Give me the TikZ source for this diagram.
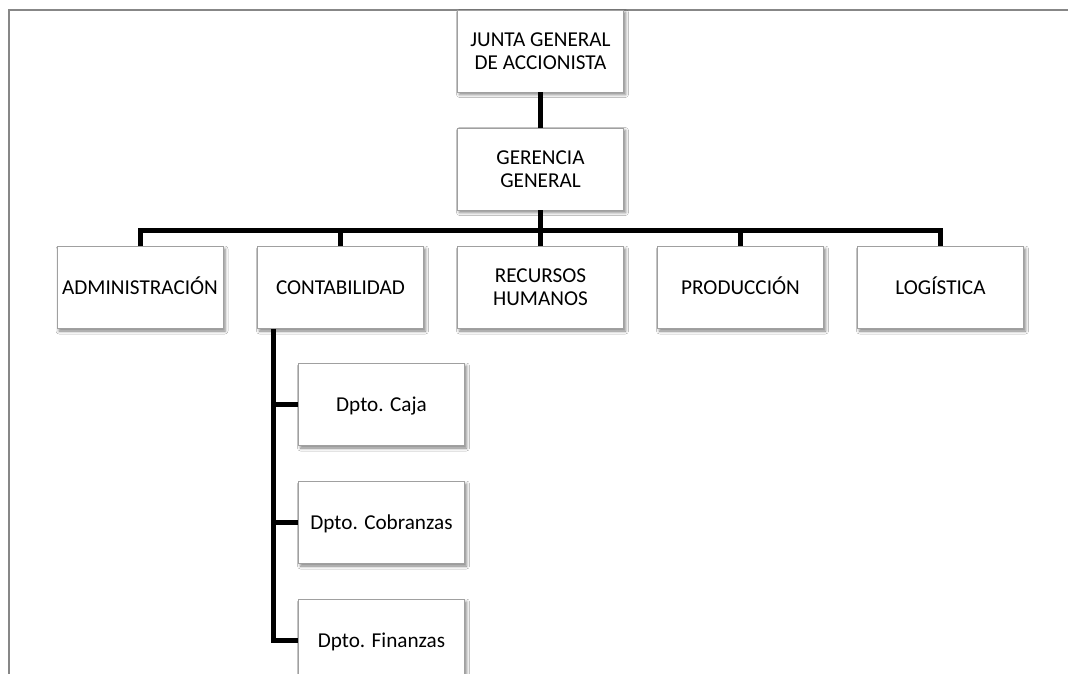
\documentclass[tikz,border=0pt]{standalone}
\usepackage{fontspec}
\setmainfont{Carlito}
\usetikzlibrary{shadows.blur}
\definecolor{framegray}{RGB}{135,135,135}
\definecolor{boxgray}{RGB}{160,160,160}
\tikzset{
  orgbox/.style={draw=boxgray, line width=0.9pt, fill=white,
    minimum width=166pt, minimum height=82pt, inner sep=2pt,
    align=center, font=\fontsize{21.2}{23}\selectfont,
    blur shadow={shadow xshift=2pt, shadow yshift=-2.5pt,
      shadow blur radius=3pt, shadow opacity=50}},
  oneline/.style={text height=18.5pt, text depth=4pt},
  conn/.style={line width=5pt, black, line join=miter},
  frameline/.style={line width=2pt, framegray}
}
\begin{document}
\begin{tikzpicture}[x=1pt, y=1pt]
  \useasboundingbox (0,0) rectangle (1068,-674);
  \clip (0,0) rectangle (1068,-674);
  \fill[white] (0,0) rectangle (1068,-674);

  % page frame
  \draw[frameline] (8.5,-674) -- (8.5,-10) -- (1068,-10);

  % helper coordinates for the horizontal bus and the vertical spine
  \coordinate (bus) at (0,-230);
  \coordinate (spine) at (273,0);

  % top of the chart
  \node[orgbox] (junta) at (540.5,-51)  {JUNTA GENERAL\\DE ACCIONISTA};
  \node[orgbox] (ger)   at (540.5,-169) {GERENCIA\\GENERAL};

  % departments
  \node[orgbox, oneline] (admin) at (140,-287.5) {ADMINISTRACIÓN};
  \node[orgbox, oneline] (cont)  at (340.5,-287.5) {CONTABILIDAD};
  \node[orgbox] (rrhh)  at (540.5,-287.5) {RECURSOS\\HUMANOS};
  \node[orgbox, oneline] (prod)  at (740.5,-287.5) {PRODUCCIÓN};
  \node[orgbox, oneline] (logi)  at (940.5,-287.5) {LOGÍSTICA};

  % sections under accounting
  \node[orgbox, oneline] (caja) at (381.5,-404.5) {Dpto. Caja};
  \node[orgbox, oneline] (cobr) at (381.5,-522.5) {Dpto. Cobranzas};
  \node[orgbox, oneline] (fina) at (381.5,-640.5) {Dpto. Finanzas};

  % lines of authority
  \draw[conn] (junta.south) -- (ger.north);
  \draw[conn] (ger.south) -- (ger.south |- bus);
  \draw[conn] (admin.north) -- (admin.north |- bus) -- (logi.north |- bus) -- (logi.north);
  \foreach \n in {cont, rrhh, prod}
    \draw[conn] (\n.north) -- (\n.north |- bus);
  \draw[conn] (spine |- cont.south) -- (spine |- fina.west) -- (fina.west);
  \draw[conn] (spine |- caja.west) -- (caja.west);
  \draw[conn] (spine |- cobr.west) -- (cobr.west);
\end{tikzpicture}
\end{document}
